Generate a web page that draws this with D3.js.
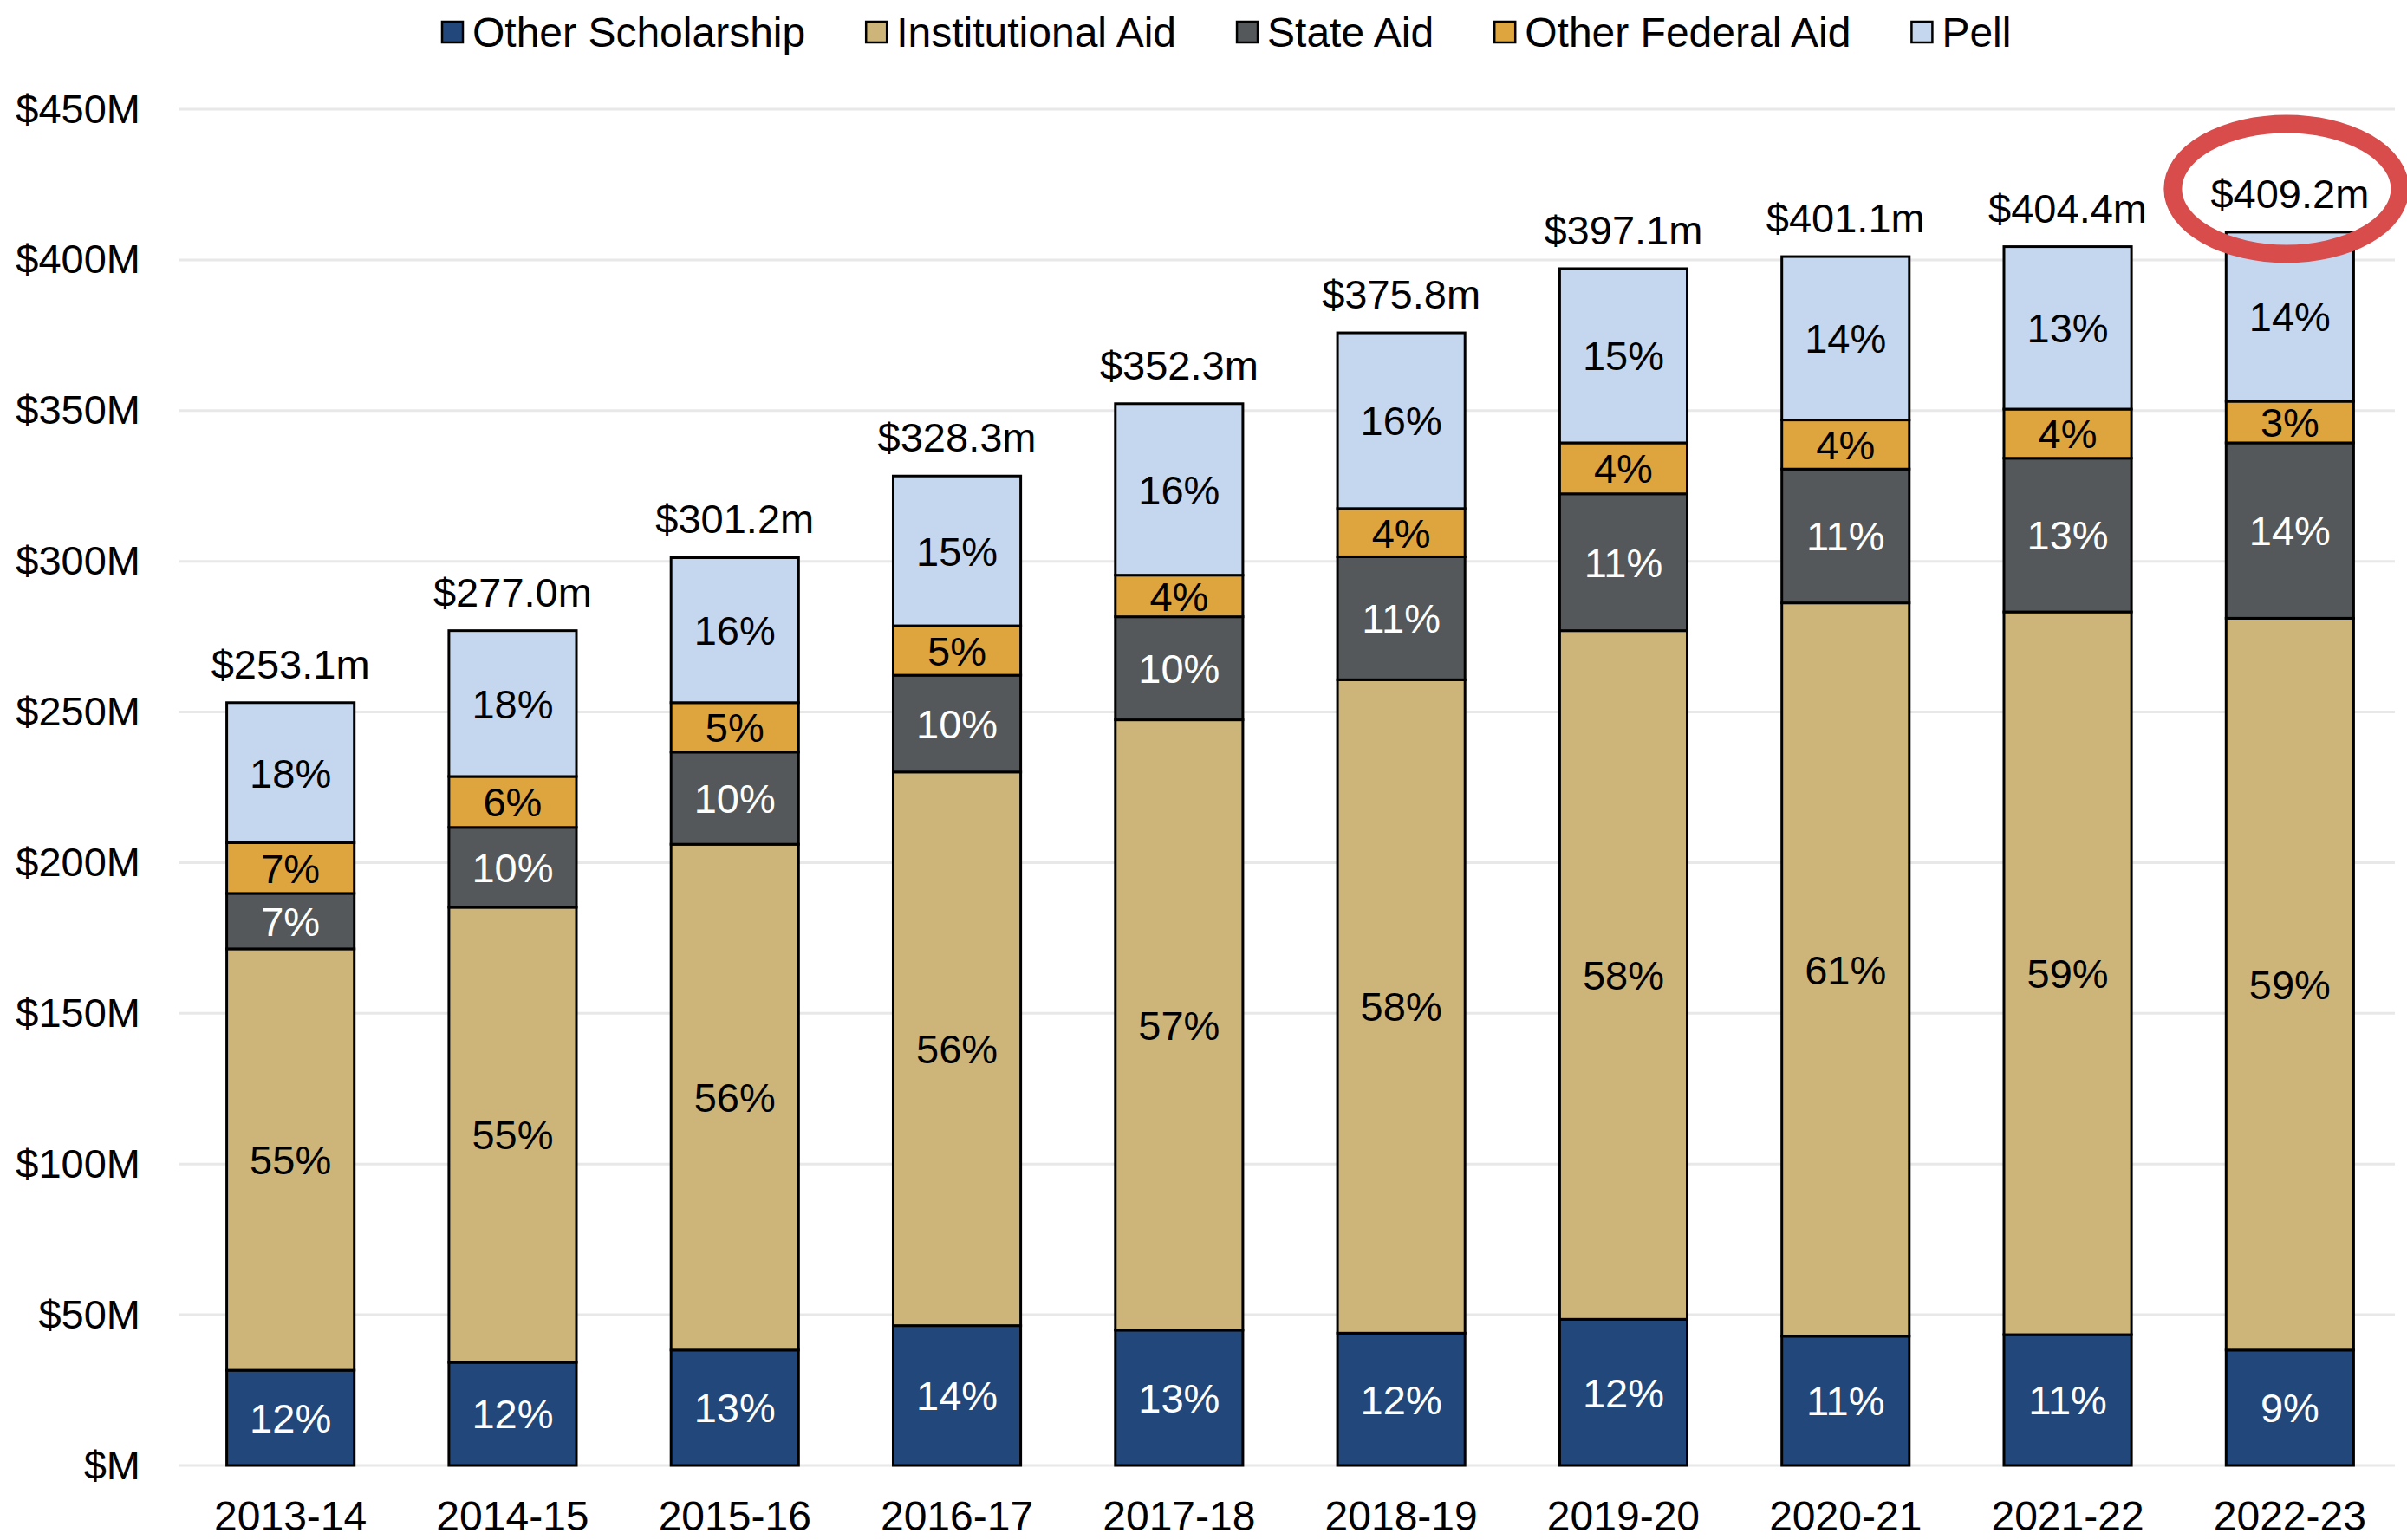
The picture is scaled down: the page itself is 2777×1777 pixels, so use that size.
<!DOCTYPE html>
<html>
<head>
<meta charset="utf-8">
<script src="https://cdn.jsdelivr.net/npm/d3@7"></script>
<style>
  body { margin: 0; background: #fff; }
  svg { font-family: "Liberation Sans", Arial, sans-serif; }
</style>
</head>
<body>
<div id="chart"></div>
<script>
// values in $M
const years = ["2013-14", "2014-15", "2015-16", "2016-17", "2017-18", "2018-19", "2019-20", "2020-21", "2021-22", "2022-23"];
const otherScholarship = [31.6, 34.2, 38.3, 46.4, 44.9, 43.9, 48.5, 42.9, 43.4, 38.3];
const institutionalAid = [139.8, 151.0, 167.8, 183.7, 202.5, 216.8, 228.5, 243.3, 239.8, 242.8];
const stateAid = [18.4, 26.5, 30.6, 32.1, 34.2, 40.8, 45.4, 44.4, 51.0, 58.2];
const otherFederalAid = [16.8, 16.9, 16.4, 16.4, 13.8, 16.0, 16.9, 16.3, 16.3, 13.8];
const pell = [46.5, 48.4, 48.1, 49.7, 56.9, 58.3, 57.8, 54.2, 53.9, 56.1];
const totals = [253.1, 277.0, 301.2, 328.3, 352.3, 375.8, 397.1, 401.1, 404.4, 409.2];

// share labels as printed on the chart
const pctOtherScholarship = [12, 12, 13, 14, 13, 12, 12, 11, 11, 9];
const pctInstitutionalAid = [55, 55, 56, 56, 57, 58, 58, 61, 59, 59];
const pctStateAid = [7, 10, 10, 10, 10, 11, 11, 11, 13, 14];
const pctOtherFederalAid = [7, 6, 5, 5, 4, 4, 4, 4, 4, 3];
const pctPell = [18, 18, 16, 15, 16, 16, 15, 14, 13, 14];

const yTicks = [0, 50, 100, 150, 200, 250, 300, 350, 400, 450];

const series = [
    {key: "Other Scholarship", values: otherScholarship, pct: pctOtherScholarship, color: "#22477a", text: "#fff"},
    {key: "Institutional Aid", values: institutionalAid, pct: pctInstitutionalAid, color: "#cdb57a", text: "#000"},
    {key: "State Aid", values: stateAid, pct: pctStateAid, color: "#54585a", text: "#fff"},
    {key: "Other Federal Aid", values: otherFederalAid, pct: pctOtherFederalAid, color: "#dea53f", text: "#000"},
    {key: "Pell", values: pell, pct: pctPell, color: "#c5d7ee", text: "#000"}
];

const width = 2777, height = 1777;

const svg = d3.select("#chart")
    .append("svg")
    .attr("width", width)
    .attr("height", height);

const table = years.map((year, i) => {
    const row = {year: year, i: i};
    series.forEach(s => { row[s.key] = s.values[i]; });
    return row;
});

const stacked = d3.stack()
    .keys(series.map(s => s.key))(table);

const x = d3.scaleBand()
    .domain(years)
    .range([207, 2770])
    .paddingInner(0.426)
    .paddingOuter(0.213);

const y = d3.scaleLinear()
    .domain([0, 450])
    .range([1691, 126]);

// gridlines
svg.append("g")
    .selectAll("line")
    .data(yTicks)
    .join("line")
    .attr("x1", 207)
    .attr("x2", 2763)
    .attr("y1", d => y(d))
    .attr("y2", d => y(d))
    .attr("stroke", "#e8e8e8")
    .attr("stroke-width", 3);

// y axis labels
const yAxis = svg.append("g")
    .attr("transform", "translate(207,0)")
    .call(d3.axisLeft(y)
        .tickValues(yTicks)
        .tickSize(0)
        .tickPadding(45)
        .tickFormat(d => "$" + (d === 0 ? "" : d) + "M"));
yAxis.select(".domain").remove();
yAxis.selectAll("text")
    .attr("font-size", 47)
    .attr("font-family", "Liberation Sans, Arial, sans-serif")
    .attr("fill", "#000");

// x axis labels
const xAxis = svg.append("g")
    .attr("transform", "translate(0,1691)")
    .call(d3.axisBottom(x)
        .tickSize(0)
        .tickPadding(41));
xAxis.select(".domain").remove();
xAxis.selectAll("text")
    .attr("font-size", 48)
    .attr("font-family", "Liberation Sans, Arial, sans-serif")
    .attr("fill", "#000");

// stacked bars
const layers = svg.append("g")
    .selectAll("g")
    .data(stacked)
    .join("g")
    .attr("fill", (d, i) => series[i].color);

layers.selectAll("rect")
    .data(d => d)
    .join("rect")
    .attr("x", d => x(d.data.year))
    .attr("width", x.bandwidth())
    .attr("y", d => y(d[1]))
    .attr("height", d => y(d[0]) - y(d[1]))
    .attr("stroke", "#000")
    .attr("stroke-width", 3);

// percentage labels
stacked.forEach((layer, si) => {
    svg.append("g")
        .selectAll("text")
        .data(layer)
        .join("text")
        .attr("x", d => x(d.data.year) + x.bandwidth() / 2)
        .attr("y", d => (y(d[0]) + y(d[1])) / 2)
        .attr("dy", "0.36em")
        .attr("text-anchor", "middle")
        .attr("font-size", 47)
        .attr("fill", series[si].text)
        .text((d, i) => series[si].pct[i] + "%");
});

// totals on top
svg.append("g")
    .selectAll("text")
    .data(years)
    .join("text")
    .attr("x", d => x(d) + x.bandwidth() / 2)
    .attr("y", (d, i) => y(totals[i]) - 28)
    .attr("text-anchor", "middle")
    .attr("font-size", 47)
    .attr("fill", "#000")
    .text((d, i) => "$" + totals[i].toFixed(1) + "m");

// red highlight around the last total
const last = years.length - 1;
svg.append("ellipse")
    .attr("cx", x(years[last]) + x.bandwidth() / 2 - 4)
    .attr("cy", y(totals[last]) - 50)
    .attr("rx", 131)
    .attr("ry", 75)
    .attr("fill", "none")
    .attr("stroke", "#d84c4c")
    .attr("stroke-width", 21);

// legend
const legend = svg.append("g")
    .attr("transform", "translate(510,37)");
let lx = 0;
series.forEach(s => {
    const item = legend.append("g").attr("transform", `translate(${lx},0)`);
    item.append("rect")
        .attr("x", 0)
        .attr("y", -12)
        .attr("width", 24)
        .attr("height", 24)
        .attr("fill", s.color)
        .attr("stroke", "#000")
        .attr("stroke-width", 2.5);
    const t = item.append("text")
        .attr("x", 35)
        .attr("dy", "0.36em")
        .attr("font-size", 48)
        .attr("fill", "#000")
        .text(s.key);
    lx += 35 + t.node().getComputedTextLength() + 70;
});
</script>
</body>
</html>
